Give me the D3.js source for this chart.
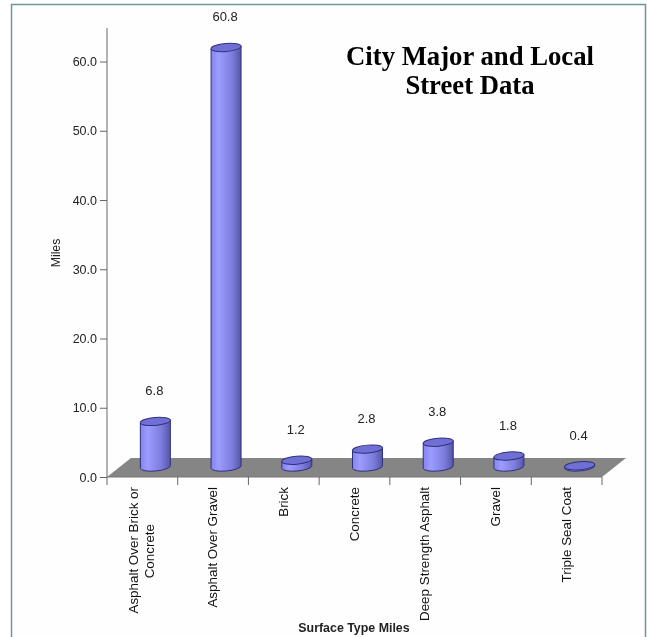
<!DOCTYPE html>
<html>
<head>
<meta charset="utf-8">
<script src="https://cdn.jsdelivr.net/npm/d3@7"></script>
<style>
  html, body { margin: 0; padding: 0; background: #fff; }
  svg { display: block; filter: blur(0.35px); }
  text { font-family: "Liberation Sans", Arial, sans-serif; fill: #222; }
</style>
</head>
<body>
<svg id="chart" width="647" height="637"></svg>
<script>
var categories = [
  ["Asphalt Over Brick or", "Concrete"],
  ["Asphalt Over Gravel"],
  ["Brick"],
  ["Concrete"],
  ["Deep Strength Asphalt"],
  ["Gravel"],
  ["Triple Seal Coat"]
];
var miles = [6.8, 60.8, 1.2, 2.8, 3.8, 1.8, 0.4];
var labels = ["6.8", "60.8", "1.2", "2.8", "3.8", "1.8", "0.4"];
var yTicks = [0, 10, 20, 30, 40, 50, 60];
var titleLines = ["City Major and Local", "Street Data"];

var depthX = 24, depthY = 19;
var barW = 30, ry = 4, tilt = -5;

var svg = d3.select("#chart");

// panel frame
svg.append("rect")
  .attr("x", 11.5).attr("y", 4.5)
  .attr("width", 634).attr("height", 640)
  .attr("fill", "#fefefe")
  .attr("stroke", "#6a979c").attr("stroke-width", 1.5);

var x = d3.scaleBand().domain(d3.range(categories.length)).range([107, 602]);
var y = d3.scaleLinear().domain([0, 60]).range([477, 61.5]);

var defs = svg.append("defs");
var grad = defs.append("linearGradient").attr("id", "barFill");
grad.append("stop").attr("offset", "0%").attr("stop-color", "#8484f0");
grad.append("stop").attr("offset", "25%").attr("stop-color", "#9c9cff");
grad.append("stop").attr("offset", "70%").attr("stop-color", "#7c7cdc");
grad.append("stop").attr("offset", "100%").attr("stop-color", "#5656a6");

// floor
svg.append("path")
  .attr("d", d3.line()([
    [x.range()[0], y(0)],
    [x.range()[0] + depthX, y(0) - depthY],
    [x.range()[1] + depthX, y(0) - depthY],
    [x.range()[1], y(0)]
  ]) + "Z")
  .attr("fill", "#858585");

// y axis
svg.append("g")
  .attr("transform", "translate(107,0)")
  .call(d3.axisLeft(y).tickValues(yTicks).tickFormat(d3.format(".1f")).tickSize(7).tickPadding(3))
  .call(function(g) {
    g.select(".domain").attr("d", "M0," + y(0) + "V28").attr("stroke", "#999").attr("stroke-width", 1.5);
    g.selectAll(".tick line").attr("stroke", "#666");
    g.selectAll("text").style("font-size", "12.5px").attr("fill", "#222").style("font-family", "Liberation Sans");
  });

// x axis ticks
var xEdges = d3.range(categories.length + 1).map(function(i) {
  return x.range()[0] + i * x.step();
});
var xAxis = svg.append("g");
xAxis.append("line")
  .attr("x1", x.range()[0]).attr("x2", x.range()[1])
  .attr("y1", y(0)).attr("y2", y(0))
  .attr("stroke", "#777");
xAxis.selectAll("line.tick").data(xEdges).join("line")
  .attr("class", "tick")
  .attr("x1", function(d) { return d; }).attr("x2", function(d) { return d; })
  .attr("y1", y(0)).attr("y2", y(0) + 8)
  .attr("stroke", "#666");

// cylinders
var cx = function(i) { return x(i) + x.bandwidth() / 2 + 13; };
var barTop = function(v) { return y(v) - 8.5; };
var barBottom = y(0) - 10;
var bars = svg.selectAll("g.bar").data(miles).join("g").attr("class", "bar");

bars.append("path")
  .attr("d", function(d, i) {
    var c = cx(i), l = c - barW / 2, r = c + barW / 2, t = barTop(d), b = barBottom;
    return "M" + l + "," + (t + 1.3) +
      "L" + l + "," + (b + 1.3) +
      "A" + (barW / 2) + "," + ry + " " + tilt + " 0 0 " + r + "," + (b - 1.3) +
      "L" + r + "," + (t - 1.3) + "Z";
  })
  .attr("fill", "url(#barFill)")
  .attr("stroke", "#30307a").attr("stroke-width", 1);

bars.append("ellipse")
  .attr("rx", barW / 2 + 0.1).attr("ry", ry)
  .attr("transform", function(d, i) {
    return "translate(" + cx(i) + "," + barTop(d) + ") rotate(" + tilt + ")";
  })
  .attr("fill", "#6f6fd6")
  .attr("stroke", "#30307a").attr("stroke-width", 1);

// value labels
svg.selectAll("text.value").data(miles).join("text")
  .attr("class", "value")
  .attr("x", function(d, i) { return cx(i) - 1; })
  .attr("y", function(d) { return barTop(d) - 26; })
  .attr("text-anchor", "middle")
  .style("font-size", "13px")
  .text(function(d, i) { return labels[i]; });

// category labels, rotated
var catLabels = svg.selectAll("text.cat").data(categories).join("text")
  .attr("class", "cat")
  .attr("transform", function(d, i) {
    return "translate(" + (x(i) + x.bandwidth() / 2) + ",487) rotate(-90)";
  })
  .attr("text-anchor", "end")
  .style("font-size", "13.4px")
  .style("fill", "#111");
catLabels.each(function(lines) {
  var t = d3.select(this);
  var dy0 = 4 - (lines.length - 1) * 8;
  lines.forEach(function(line, j) {
    t.append("tspan")
      .attr("x", j === 0 ? 0 : -37)
      .attr("y", dy0 + j * 16)
      .text(line);
  });
});

// axis titles
svg.append("text")
  .attr("transform", "translate(60,253) rotate(-90)")
  .attr("text-anchor", "middle")
  .style("font-size", "12.3px")
  .text("Miles");
svg.append("text")
  .attr("x", 354).attr("y", 632)
  .attr("text-anchor", "middle")
  .style("font-size", "12.4px").style("font-weight", "bold")
  .text("Surface Type Miles");

// chart title
svg.selectAll("text.title").data(titleLines).join("text")
  .attr("class", "title")
  .attr("x", 470)
  .attr("y", function(d, i) { return 65 + i * 29; })
  .attr("text-anchor", "middle")
  .style("font-family", "Liberation Serif")
  .style("font-size", "26.7px").style("font-weight", "bold")
  .style("fill", "#000")
  .text(function(d) { return d; });
</script>
</body>
</html>
